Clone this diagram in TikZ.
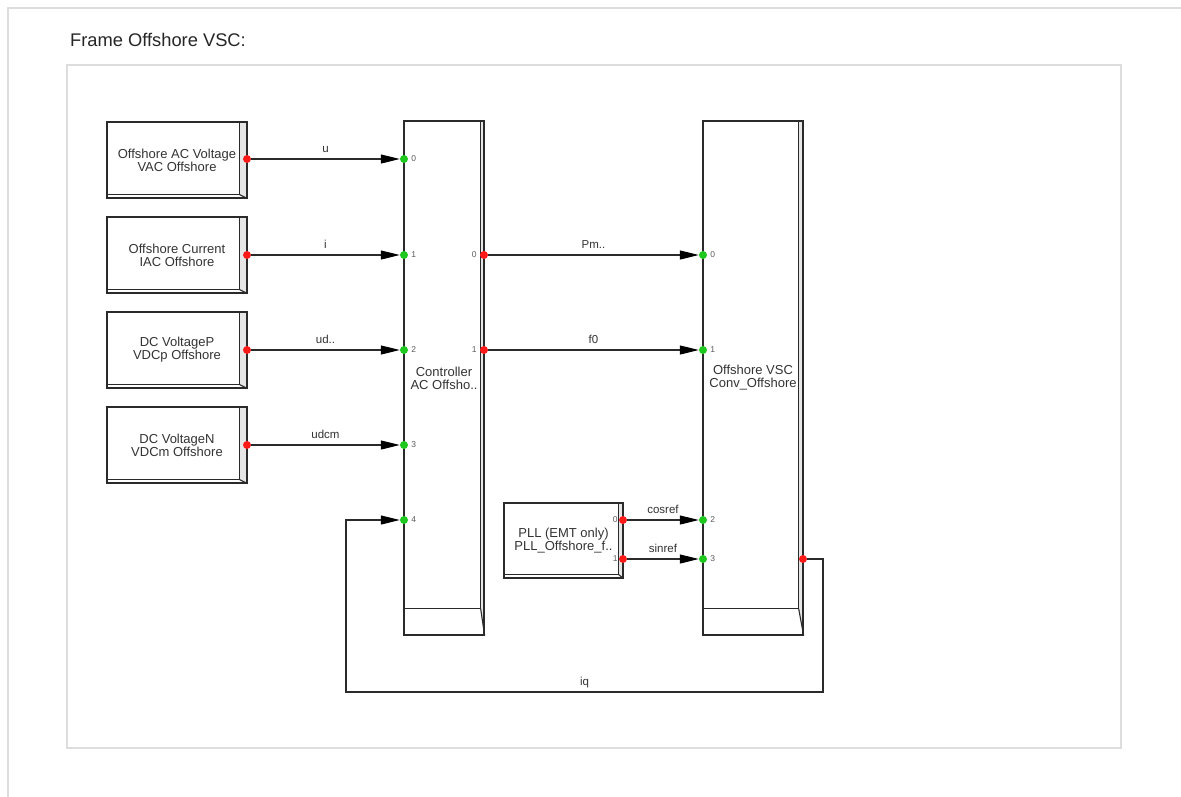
\documentclass[tikz,border=0pt]{standalone}
\usepackage{fontspec}
\setmainfont{Liberation Sans}
\usetikzlibrary{arrows.meta,calc}
\pgfdeclarelayer{bg}
\pgfdeclarelayer{bgwhite}
\pgfsetlayers{bgwhite,bg,main}
\definecolor{framegray}{HTML}{DDDDDD}
\definecolor{linegray}{HTML}{2A2A2A}
\definecolor{txtgray}{HTML}{333333}
\definecolor{portgreen}{HTML}{1FC81F}
\definecolor{portred}{HTML}{FF1A1A}
\definecolor{bevfill}{HTML}{E6E6E6}
\tikzset{
  blk/.style={draw=linegray, line width=1.3pt, inner sep=0pt, align=center,
    text=txtgray, font=\fontsize{13}{13}\selectfont},
  bevline/.style={draw=linegray, line width=1.1pt},
  inp/.style={circle, fill=portgreen, inner sep=0pt, minimum size=8pt},
  outp/.style={circle, fill=portred, inner sep=0pt, minimum size=8pt},
  numlab/.style={font=\fontsize{8.5}{8.5}\selectfont, text=txtgray!80, inner sep=0pt},
  conn/.style={draw=linegray, line width=1.1pt},
  arr/.style={conn, -{Triangle[length=19pt,width=9pt,color=black]}},
  elab/.style={font=\fontsize{11.5}{11.5}\selectfont, text=txtgray, inner sep=0pt, anchor=base, yshift=7pt}
}
\newcommand\bevel[3]{%
  \begin{pgfonlayer}{bg}
  \fill[bevfill] ([xshift=-#2pt]#1.north east) -- (#1.north east) -- (#1.south east)
    -- ([xshift=-#2pt,yshift=#3pt]#1.south east) -- cycle;
  \end{pgfonlayer}
  \draw[bevline] ([xshift=-#2pt]#1.north east) |- ([yshift=#3pt]#1.south west);
  \draw[bevline] ([xshift=-#2pt,yshift=#3pt]#1.south east) -- (#1.south east);}
\begin{document}
\begin{tikzpicture}[x=1pt,y=-1pt]
\begin{pgfonlayer}{bgwhite}
\fill[white] (0,0) rectangle (1181,796);
\end{pgfonlayer}
\useasboundingbox (0,0) rectangle (1181,796);
% frames
\draw[framegray, line width=2pt] (8,797) -- (8,8) -- (1182,8);
\draw[framegray, line width=1.4pt] (67,65) rectangle (1121,748);
\node[anchor=base west, inner sep=0pt, font=\fontsize{18.3}{18}\selectfont, text=black!85] (title) at (70,46) {Frame Offshore VSC:};

% source blocks
\node[blk, minimum width=140pt, minimum height=76pt] (s1) at (177,160) {Offshore AC Voltage\\VAC Offshore};
\node[blk, minimum width=140pt, minimum height=76pt] (s2) at (177,255) {Offshore Current\\IAC Offshore};
\node[blk, minimum width=140pt, minimum height=76pt] (s3) at (177,350) {DC VoltageP\\VDCp Offshore};
\node[blk, minimum width=140pt, minimum height=76pt] (s4) at (177,445) {DC VoltageN\\VDCm Offshore};
\bevel{s1}{8}{4}\bevel{s2}{8}{4}\bevel{s3}{8}{4}\bevel{s4}{8}{4}

% controller
\node[blk, minimum width=80pt, minimum height=514pt] (ctrl) at (444,378) {Controller\\AC Offsho..};
\bevel{ctrl}{4}{27}
% VSC
\node[blk, minimum width=100pt, minimum height=514pt] (vsc) at (753,378) {Offshore VSC\\Conv\_Offshore};
\bevel{vsc}{5}{27}
% PLL
\node[blk, minimum width=119pt, minimum height=75pt] (pll) at (563.5,540.5) {PLL (EMT only)\\PLL\_Offshore\_f..};
\bevel{pll}{5}{4}

% ports
\node[outp] (s1o) at (247,159) {};
\node[outp] (s2o) at (247,255) {};
\node[outp] (s3o) at (247,350) {};
\node[outp] (s4o) at (247,445) {};
\node[inp, label={[numlab,label distance=3pt]right:0}] (c0) at (404,159) {};
\node[inp, label={[numlab,label distance=3pt]right:1}] (c1) at (404,255) {};
\node[inp, label={[numlab,label distance=3pt]right:2}] (c2) at (404,350) {};
\node[inp, label={[numlab,label distance=3pt]right:3}] (c3) at (404,445) {};
\node[inp, label={[numlab,label distance=3pt]right:4}] (c4) at (404,520) {};
\node[outp, label={[numlab,label distance=3pt]left:0}] (co0) at (484,255) {};
\node[outp, label={[numlab,label distance=3pt]left:1}] (co1) at (484,350) {};
\node[inp, label={[numlab,label distance=3pt]right:0}] (v0) at (703,255) {};
\node[inp, label={[numlab,label distance=3pt]right:1}] (v1) at (703,350) {};
\node[inp, label={[numlab,label distance=3pt]right:2}] (v2) at (703,520) {};
\node[inp, label={[numlab,label distance=3pt]right:3}] (v3) at (703,559) {};
\node[outp] (vo) at (803,559) {};
\node[outp, label={[numlab,label distance=1pt]left:0}] (p0) at (623,520) {};
\node[outp, label={[numlab,label distance=1pt]left:1}] (p1) at (623,559) {};

% connectors
\draw[arr] (s1o) -- node[elab]{u} (c0);
\draw[arr] (s2o) -- node[elab]{i} (c1);
\draw[arr] (s3o) -- node[elab]{ud..} (c2);
\draw[arr] (s4o) -- node[elab]{udcm} (c3);
\draw[arr] (co0) -- node[elab]{Pm..} (v0);
\draw[arr] (co1) -- node[elab]{f0} (v1);
\draw[arr] (p0) -- node[elab]{cosref} (v2);
\draw[arr] (p1) -- node[elab]{sinref} (v3);
\coordinate (k1) at (823,692);
\coordinate (k2) at (346,692);
\draw[arr] (vo) -| (k1) -- node[elab]{iq} (k2) |- (c4);
\end{tikzpicture}
\end{document}
